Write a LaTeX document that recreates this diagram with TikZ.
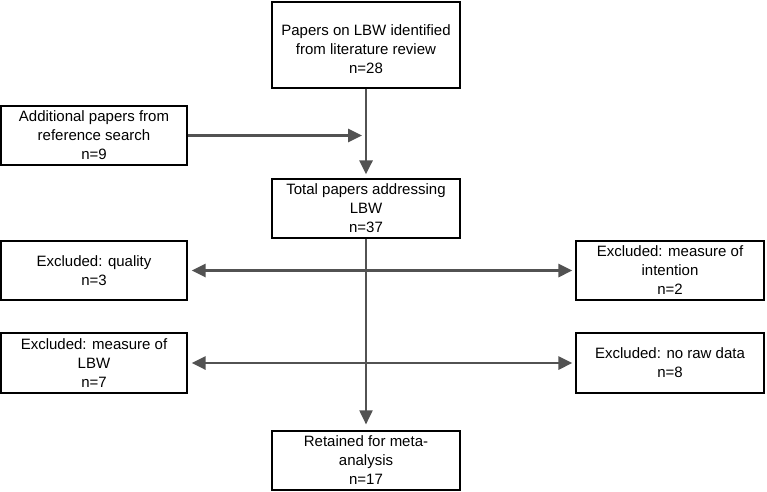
\documentclass[tikz,border=0pt]{standalone}
\usepackage{fontspec}
\setmainfont{Liberation Sans}
\usetikzlibrary{arrows.meta}
\begin{document}
\begin{tikzpicture}[x=1pt,y=-1pt,>={Triangle[length=14pt,width=13pt]},
    box/.style={rectangle,draw=black,line width=1.2pt,fill=white,align=center,
        inner sep=0pt,font={\fontsize{15}{19}\selectfont}},
    flow/.style={draw=black!68,line width=2.8pt}]
    \useasboundingbox (0,0) rectangle (767,491);
    
    \foreach \name/\cx/\cy/\w/\h/\txt in {
        lit/366/45/188/86/{\rule{0pt}{19pt}Papers on LBW identified\\from literature review\\n=28},
        extra/94/135.5/186/59/{Additional papers from\\reference search\\n=9},
        total/366/208.5/188/59/{Total papers addressing\\LBW\\n=37},
        quality/94/270.5/186/59/{Excluded: quality\\n=3},
        intention/670/270.5/188/59/{Excluded: measure of\\intention\\n=2},
        measure/94/363/186/60/{Excluded: measure of\\LBW\\n=7},
        noraw/670/363/188/60/{Excluded: no raw data\\n=8},
        retained/366/460.5/188/59/{Retained for meta-\\analysis\\n=17}}{
        \node[box,minimum width=\w pt,minimum height=\h pt] (\name) at (\cx,\cy) {\txt};
    }
    
    \draw[flow,->,shorten >=4pt] (lit) -- (total);
    \draw[flow,->,shorten >=4pt] (extra.east) -- (extra.east -| lit.south);
    \draw[flow,line width=2pt,->,shorten >=6pt] (total) -- (retained);
    
    % excluded papers, both sides
    \draw[flow,<->,shorten <=4pt,shorten >=3pt] (quality) -- (intention);
    \draw[flow,<->,shorten <=4pt,shorten >=3pt] (measure) -- (noraw);
\end{tikzpicture}
\end{document}
